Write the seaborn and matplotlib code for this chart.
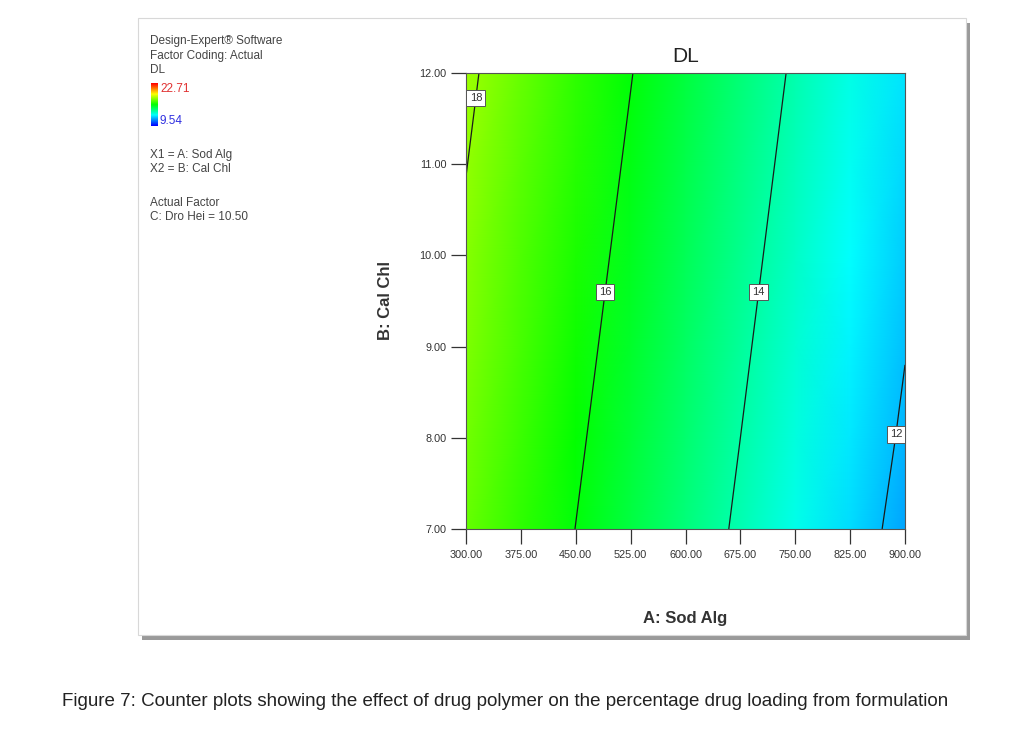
import numpy as np
import matplotlib.pyplot as plt
import matplotlib.patches as mpatches
import seaborn as sns

# Factor levels (axes)
sod_alg = [300, 375, 450, 525, 600, 675, 750, 825, 900]
cal_chl = [7, 8, 9, 10, 11, 12]

# DL response, one row per Cal Chl level
dl_values = [
    [17.42, 16.70, 15.99, 15.28, 14.56, 13.85, 13.13, 12.42, 11.70],
    [17.57, 16.85, 16.14, 15.43, 14.71, 14.00, 13.28, 12.57, 11.88],
    [17.72, 17.00, 16.29, 15.58, 14.86, 14.15, 13.43, 12.72, 12.03],
    [17.87, 17.15, 16.44, 15.73, 15.01, 14.30, 13.58, 12.87, 12.18],
    [18.02, 17.30, 16.59, 15.88, 15.16, 14.45, 13.73, 13.02, 12.33],
    [18.17, 17.45, 16.74, 16.03, 15.31, 14.60, 13.88, 13.17, 12.48],
]
contour_levels = [12, 14, 16, 18]
label_spots = [(312, 11.73), (489, 9.6), (698, 9.6), (884, 8.04)]
dl_min, dl_max = 9.54, 22.71

sod_ticks = [300, 375, 450, 525, 600, 675, 750, 825, 900]
cal_ticks = [7, 8, 9, 10, 11, 12]

legend_lines = ["Design-Expert\u00ae Software", "Factor Coding: Actual", "DL"]
factor_lines = ["X1 = A: Sod Alg", "X2 = B: Cal Chl"]
actual_lines = ["Actual Factor", "C: Dro Hei = 10.50"]
caption = ("Figure 7: Counter plots showing the effect of drug polymer "
           "on the percentage drug loading from formulation")

sns.set_theme(style="white")
narrow = ["Liberation Sans Narrow", "Liberation Sans", "DejaVu Sans"]
plt.rcParams["font.family"] = ["Liberation Sans", "DejaVu Sans"]

cmap = sns.blend_palette(["#0000ff", "#00ffff", "#00ff00", "#ffff00", "#ff0000"], as_cmap=True)

W, H = 1009, 749
fig = plt.figure(figsize=(W / 100, H / 100), dpi=100)

def fx(px):
    return px / W

def fy(py):
    return 1 - py / H

# framed panel with drop shadow
fig.patches.append(mpatches.Rectangle((fx(142), fy(640)), fx(828), 617 / H,
                                      transform=fig.transFigure, facecolor="#9a9a9a",
                                      edgecolor="none", zorder=-5))
fig.patches.append(mpatches.Rectangle((fx(138), fy(635)), fx(828), 617 / H,
                                      transform=fig.transFigure, facecolor="white",
                                      edgecolor="#d8d8d8", lw=0.8, zorder=-4))

ax = fig.add_axes([fx(466), fy(529), fx(439), 456 / H])
ax.set_zorder(2)
A, B = np.meshgrid(sod_alg, cal_chl)
Z = np.array(dl_values)
ax.pcolormesh(A, B, Z, shading="gouraud", cmap=cmap, vmin=dl_min, vmax=dl_max)
cs = ax.contour(A, B, Z, levels=contour_levels, colors="#1a1a1a", linewidths=0.9)
labels = ax.clabel(cs, fmt="%d", manual=label_spots, inline=False, fontsize=8)
for t in labels:
    t.set_rotation(0)
    t.set_bbox(dict(boxstyle="square,pad=0.28", facecolor="white", edgecolor="#555555", lw=0.7))
    t.set_color("#333333")
    t.set_family(narrow)

ax.set_xlim(300, 900)
ax.set_ylim(7, 12)
ax.set_xticks(sod_ticks)
ax.set_xticklabels([f"{v:.2f}" for v in sod_ticks], family=narrow)
ax.set_yticks(cal_ticks)
ax.set_yticklabels([f"{v:.2f}" for v in cal_ticks], family=narrow)
ax.tick_params(axis="both", direction="out", length=11, width=0.9, color="#333333",
               labelsize=7.8, labelcolor="#333333", pad=3)
ax.tick_params(axis="x", bottom=True, pad=4)
ax.tick_params(axis="y", left=True)
for side in ax.spines.values():
    side.set_color("#555555")
    side.set_linewidth(0.8)

ax.set_title("DL", fontsize=15, color="#222222", pad=8)
ax.set_xlabel("A: Sod Alg", fontsize=12, fontweight="bold", color="#333333",
              labelpad=37, family=narrow)
ax.set_ylabel("B: Cal Chl", fontsize=12, fontweight="bold", color="#333333",
              labelpad=19, family=narrow)

# Design-Expert side legend
tkw = dict(fontsize=8.5, color="#444444", family=narrow, va="center", ha="left")
for i, line in enumerate(legend_lines):
    fig.text(fx(150), fy(41 + 14.5 * i), line, **tkw)
cax = fig.add_axes([fx(151), fy(126), fx(7), 43 / H])
cax.set_zorder(2)
cax.imshow(np.linspace(dl_max, dl_min, 64)[:, None], aspect="auto", cmap=cmap,
           vmin=dl_min, vmax=dl_max)
cax.set_axis_off()
fig.text(fx(160), fy(89), f"{dl_max:.2f}", fontsize=8.5, color="#e03030",
         family=narrow, va="center", ha="left")
fig.text(fx(160), fy(121), f"{dl_min:.2f}", fontsize=8.5, color="#3030e0",
         family=narrow, va="center", ha="left")
for i, line in enumerate(factor_lines):
    fig.text(fx(150), fy(155 + 14.5 * i), line, **tkw)
for i, line in enumerate(actual_lines):
    fig.text(fx(150), fy(203 + 14.5 * i), line, **tkw)

fig.text(fx(62), fy(701), caption, fontsize=13.5, color="#222222", va="center", ha="left")

fig.savefig("out.png", dpi=100)
